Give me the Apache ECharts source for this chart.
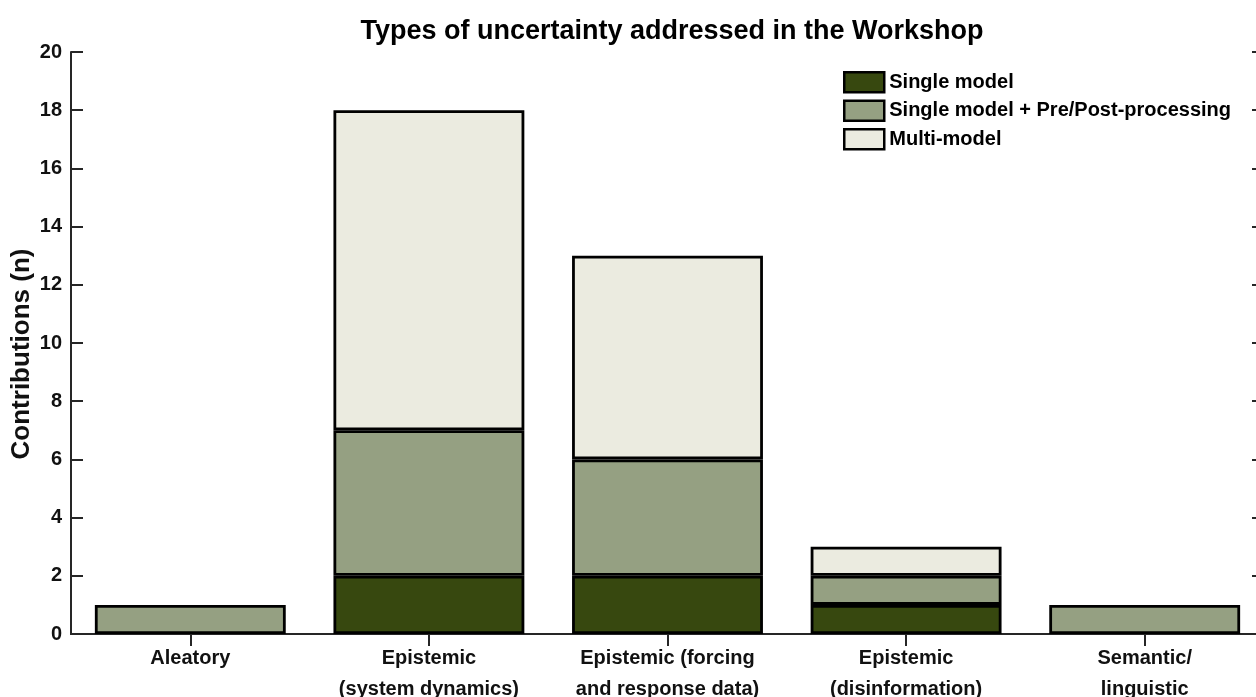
<!DOCTYPE html>
<html>
<head>
<meta charset="utf-8">
<script src="https://cdn.jsdelivr.net/npm/echarts@6/dist/echarts.min.js"></script>
<style>html,body{margin:0;padding:0;background:#fff}#c{width:1256px;height:697px}</style>
</head>
<body>
<div id="c"></div>
<script>
const categories = ['Aleatory', 'Epistemic\n(system dynamics)', 'Epistemic (forcing\nand response data)', 'Epistemic\n(disinformation)', 'Semantic/\nlinguistic'];
const singleModel = [0, 2, 2, 1, 0];
const singlePrePost = [1, 5, 4, 1, 1];
const multiModel = [0, 11, 7, 1, 0];
const seriesNames = ['Single model', 'Single model + Pre/Post-processing', 'Multi-model'];
const seriesColors = ['#37480f', '#95a082', '#ebebe0'];

const FONT = '"Liberation Sans", Arial, sans-serif';
const TXT = '#111';
const AX = '#262626';
const toData = arr => arr.map(v => v === 0 ? '-' : v);

const chart = echarts.init(document.getElementById('c'), null, {renderer: 'canvas'});
const series = [singleModel, singlePrePost, multiModel].map((arr, i) => ({
  name: seriesNames[i],
  type: 'bar',
  stack: 'total',
  barWidth: '80%',
  data: toData(arr),
  itemStyle: {color: seriesColors[i], borderColor: '#000', borderWidth: 2.8},
  emphasis: {disabled: true}
}));

chart.setOption({
  animation: false,
  backgroundColor: '#fff',
  title: {
    text: 'Types of uncertainty addressed in the Workshop',
    left: 667, textAlign: 'center', top: 13,
    textStyle: {fontFamily: FONT, fontWeight: 'bold', fontSize: 27, color: '#000'}
  },
  legend: {
    orient: 'vertical', left: 843, top: 71, padding: 0,
    itemWidth: 40, itemHeight: 20, itemGap: 6,
    icon: 'rect',
    itemStyle: {borderColor: '#000', borderWidth: 2.5},
    textStyle: {fontFamily: FONT, fontWeight: 'bold', fontSize: 20, color: '#000', lineHeight: 21},
    data: seriesNames
  },
  grid: {left: 71, top: 52, right: -8, bottom: 63, containLabel: false, outerBoundsMode: 'none'},
  xAxis: [{
    type: 'category', data: categories, position: 'bottom',
    axisLine: {show: true, lineStyle: {color: AX, width: 2}},
    axisTick: {show: true, inside: true, length: 12, alignWithLabel: true, lineStyle: {color: AX, width: 2}},
    axisLabel: {fontFamily: FONT, fontWeight: 'bold', fontSize: 20, color: TXT, margin: 9, lineHeight: 31, interval: 0}
  }, {
    type: 'category', data: categories, position: 'top',
    axisLine: {show: true, lineStyle: {color: AX, width: 2}},
    axisTick: {show: true, inside: true, length: 12, alignWithLabel: true, lineStyle: {color: AX, width: 2}},
    axisLabel: {show: false}
  }],
  yAxis: [{
    type: 'value', min: 0, max: 20, interval: 2, position: 'left',
    name: 'Contributions (n)', nameLocation: 'middle', nameGap: 36, nameRotate: 90,
    nameMoveOverlap: false,
    nameTextStyle: {fontFamily: FONT, fontWeight: 'bold', fontSize: 26, color: TXT, padding: [0, 22, 0, 0]},
    axisLine: {show: true, lineStyle: {color: AX, width: 2}},
    axisTick: {show: true, inside: true, length: 12, lineStyle: {color: AX, width: 2}},
    splitLine: {show: false},
    axisLabel: {fontFamily: FONT, fontWeight: 'bold', fontSize: 20, color: TXT, margin: 9}
  }, {
    type: 'value', min: 0, max: 20, interval: 2, position: 'right',
    axisLine: {show: true, lineStyle: {color: AX, width: 2}},
    axisTick: {show: true, inside: true, length: 12, lineStyle: {color: AX, width: 2}},
    splitLine: {show: false},
    axisLabel: {show: false}
  }],
  series: series
});
</script>
</body>
</html>
